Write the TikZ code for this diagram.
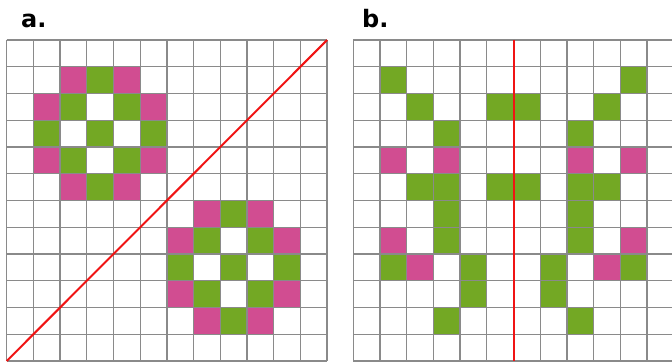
\documentclass[tikz,border=0pt]{standalone}
\usepackage{fontspec}
\setsansfont{DejaVu Sans}
\usepackage{tikz}
\usetikzlibrary{positioning}
\usepackage{xcolor}
\definecolor{cellpink}{RGB}{209,77,145}
\definecolor{cellgreen}{RGB}{115,168,36}
\definecolor{gridgray}{RGB}{138,138,138}
\definecolor{mirrorred}{RGB}{240,20,20}

\begin{document}
\begin{tikzpicture}[x=1pt,y=-1pt,
  gridline/.style={draw=gridgray, line width=1.3pt},
  mirrorline/.style={draw=mirrorred, line width=2pt},
  panellabel/.style={font=\sffamily\bfseries\fontsize{24}{24}\selectfont,
    anchor=base west, inner sep=0pt}]
  \useasboundingbox (0,0) rectangle (672,363);
  \clip (0,0) rectangle (672,363);

  % panel a: diagonal mirror
  \node[panellabel] (labelA) at (21,28) {a.};
  \begin{scope}[shift={(6.7,40)}, x=26.7pt, y=-26.75pt]
    \foreach \c/\r in {2/1,4/1,1/2,5/2,1/4,5/4,2/5,4/5,
                       7/6,9/6,6/7,10/7,6/9,10/9,7/10,9/10}
      \fill[cellpink] (\c,\r) rectangle ++(1,1);
    \foreach \c/\r in {3/1,2/2,4/2,1/3,3/3,5/3,2/4,4/4,3/5,
                       8/6,7/7,9/7,6/8,8/8,10/8,7/9,9/9,8/10}
      \fill[cellgreen] (\c,\r) rectangle ++(1,1);
    \foreach \i in {0,...,12}{
      \draw[gridline] (\i,0) -- (\i,12);
      \draw[gridline] (0,\i) -- (12,\i);
    }
    \coordinate (a-low) at (0,12);
    \coordinate (a-high) at (12,0);
    \draw[mirrorline] (a-low) -- (a-high);
  \end{scope}

  % panel b: vertical mirror
  \node[panellabel] (labelB) at (362,28) {b.};
  \begin{scope}[shift={(353.3,40)}, x=26.7pt, y=-26.75pt]
    \foreach \c/\r in {1/4,3/4,8/4,10/4,1/7,10/7,2/8,9/8}
      \fill[cellpink] (\c,\r) rectangle ++(1,1);
    \foreach \c/\r in {1/1,10/1,2/2,5/2,6/2,9/2,3/3,8/3,
                       2/5,3/5,5/5,6/5,8/5,9/5,3/6,8/6,3/7,8/7,
                       1/8,4/8,7/8,10/8,4/9,7/9,3/10,8/10}
      \fill[cellgreen] (\c,\r) rectangle ++(1,1);
    \foreach \i in {0,...,12}{
      \draw[gridline] (\i,0) -- (\i,12);
      \draw[gridline] (0,\i) -- (12,\i);
    }
    \coordinate (b-top) at (6,0);
    \coordinate (b-bottom) at (6,12);
    \draw[mirrorline] (b-top) -- (b-bottom);
  \end{scope}
\end{tikzpicture}
\end{document}
